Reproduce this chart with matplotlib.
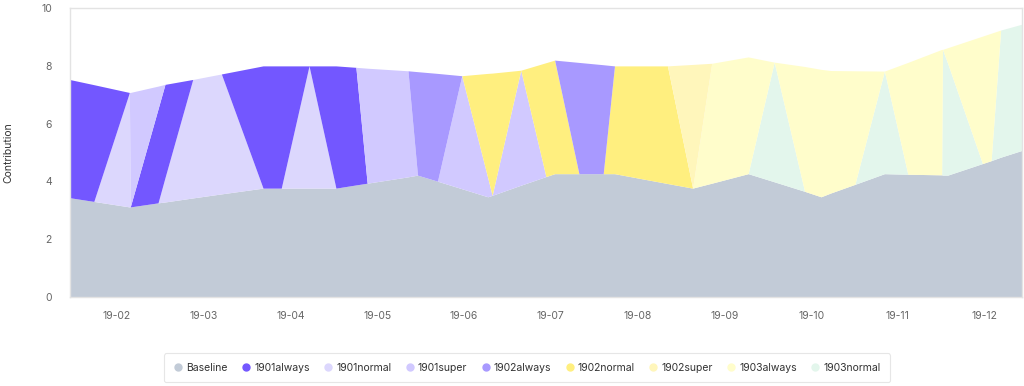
import matplotlib
matplotlib.use("Agg")
import matplotlib.pyplot as plt
from matplotlib.lines import Line2D

plt.rcParams['font.family'] = ['Inter', 'DejaVu Sans']

# time in months (19-02 = 2.0), irregular sample dates
months = [1.46, 1.74, 2.15, 2.16, 2.48, 2.56, 2.88, 3.21, 3.69, 3.90,
          4.22, 4.53, 4.76, 4.89, 5.36, 5.47, 5.70, 5.98, 6.28, 6.33,
          6.66, 6.95, 7.05, 7.33, 7.61, 7.74, 8.35, 8.64, 8.86, 9.28,
          9.58, 9.93, 10.12, 10.23, 10.51, 10.85, 11.12, 11.51, 11.52, 11.58,
          11.98, 12.08, 12.19, 12.43]

baseline = [3.42, 3.29, 3.10, 3.10, 3.24, 3.27, 3.41, 3.55, 3.75, 3.75,
            3.75, 3.75, 3.86, 3.92, 4.14, 4.20, 3.99, 3.73, 3.45, 3.50,
            3.85, 4.15, 4.25, 4.25, 4.25, 4.25, 3.91, 3.75, 3.92, 4.25,
            3.97, 3.64, 3.45, 3.58, 3.88, 4.25, 4.23, 4.21, 4.20, 4.20,
            4.60, 4.70, 4.82, 5.05]

always_1901 = [4.09, 4.04, 0, 0, 3.25, 3.23, 0, 0, 4.23, 4.23,
               0, 4.23, 4.07, 0, 0, 0, 0, 0, 0, 0,
               0, 0, 0, 0, 0, 0, 0, 0, 0, 0,
               0, 0, 0, 0, 0, 0, 0, 0, 0, 0,
               0, 0, 0, 0]
normal_1901 = [0, 0, 3.96, 0, 0, 0.84, 4.10, 4.15, 0, 0,
               4.23, 0, 0, 0, 0, 0, 0, 0, 0, 0,
               0, 0, 0, 0, 0, 0, 0, 0, 0, 0,
               0, 0, 0, 0, 0, 0, 0, 0, 0, 0,
               0, 0, 0, 0]
super_1901 = [0, 0, 0, 3.96, 0.79, 0, 0, 0, 0, 0,
              0, 0, 0, 3.98, 3.67, 0, 0, 3.91, 0.65, 0,
              3.98, 0, 0, 0, 0, 0, 0, 0, 0, 0,
              0, 0, 0, 0, 0, 0, 0, 0, 0, 0,
              0, 0, 0, 0]
always_1902 = [0, 0, 0, 0, 0, 0, 0, 0, 0, 0,
               0, 0, 0, 0, 0, 3.58, 3.73, 0, 0, 0,
               0, 0, 0, 3.85, 3.77, 0, 0, 0, 0, 0,
               0, 0, 0, 0, 0, 0, 0, 0, 0, 0,
               0, 0, 0, 0]
normal_1902 = [0, 0, 0, 0, 0, 0, 0, 0, 0, 0,
               0, 0, 0, 0, 0, 0, 0, 0, 3.62, 4.23,
               0, 3.94, 3.93, 0, 0, 3.73, 4.07, 0, 0, 0,
               0, 0, 0, 0, 0, 0, 0, 0, 0, 0,
               0, 0, 0, 0]
super_1902 = [0, 0, 0, 0, 0, 0, 0, 0, 0, 0,
              0, 0, 0, 0, 0, 0, 0, 0, 0, 0,
              0, 0, 0, 0, 0, 0, 0, 4.28, 0, 0,
              0, 0, 0, 0, 0, 0, 0, 0, 0, 0,
              0, 0, 0, 0]
always_1903 = [0, 0, 0, 0, 0, 0, 0, 0, 0, 0,
               0, 0, 0, 0, 0, 0, 0, 0, 0, 0,
               0, 0, 0, 0, 0, 0, 0, 0, 4.15, 4.04,
               0, 4.32, 4.41, 4.24, 3.93, 0, 3.87, 4.34, 0, 0.55,
               4.41, 4.41, 0, 0]
normal_1903 = [0, 0, 0, 0, 0, 0, 0, 0, 0, 0,
               0, 0, 0, 0, 0, 0, 0, 0, 0, 0,
               0, 0, 0, 0, 0, 0, 0, 0, 0, 0,
               4.14, 0, 0, 0, 0, 3.55, 0, 0, 4.35, 3.86,
               0, 0, 4.40, 4.37]

tick_months = [2, 3, 4, 5, 6, 7, 8, 9, 10, 11, 12]
tick_labels = ['19-02', '19-03', '19-04', '19-05', '19-06', '19-07',
               '19-08', '19-09', '19-10', '19-11', '19-12']

colors = {
    'Baseline': '#c2cbd7',
    '1901always': '#7357ff',
    '1901normal': '#dcd7fd',
    '1901super': '#d1c9ff',
    '1902always': '#a899ff',
    '1902normal': '#ffef7f',
    '1902super': '#fff6bb',
    '1903always': '#fffdcb',
    '1903normal': '#e3f6ec',
}

# stacking order (bottom to top)
stack = [
    ('Baseline', baseline),
    ('1901normal', normal_1901),
    ('1901always', always_1901),
    ('1901super', super_1901),
    ('1903normal', normal_1903),
    ('1903always', always_1903),
    ('1902normal', normal_1902),
    ('1902always', always_1902),
    ('1902super', super_1902),
]
legend_order = ['Baseline', '1901always', '1901normal', '1901super', '1902always',
                '1902normal', '1902super', '1903always', '1903normal']

fig = plt.figure(figsize=(10.24, 3.86), dpi=100)
ax = fig.add_axes([70 / 1024, 1 - 297 / 386, 952 / 1024, 289 / 386])

polys = ax.stackplot(months, *[s[1] for s in stack],
                     colors=[colors[s[0]] for s in stack], linewidth=0)

ax.set_xlim(months[0], months[-1])
ax.set_ylim(0, 10)
ax.set_yticks([0, 2, 4, 6, 8, 10])
ax.set_xticks(tick_months)
ax.set_xticklabels(tick_labels)
ax.tick_params(axis='both', length=0, labelsize=7.5, labelcolor='#666666')
ax.tick_params(axis='y', pad=13)
ax.tick_params(axis='x', pad=10)
for sp in ax.spines.values():
    sp.set_color('#e3e3e3')
    sp.set_linewidth(1)
ax.set_ylabel('Contribution', fontsize=7.5, color='#333333', labelpad=20)

handles = [Line2D([0], [0], marker='o', linestyle='', markersize=5,
                  markerfacecolor=colors[n], markeredgecolor=colors[n], label=n)
           for n in legend_order]
leg = fig.legend(handles=handles, loc='center', bbox_to_anchor=(0.515, 0.047),
                 ncol=9, frameon=True, fancybox=True, fontsize=7.5,
                 handlelength=0.8, handletextpad=0.4, columnspacing=1.35,
                 borderpad=0.9)
leg.get_frame().set_edgecolor('#e0e0e0')
leg.get_frame().set_linewidth(0.8)
for t in leg.get_texts():
    t.set_color('#333333')

fig.savefig('out.png', dpi=100)
